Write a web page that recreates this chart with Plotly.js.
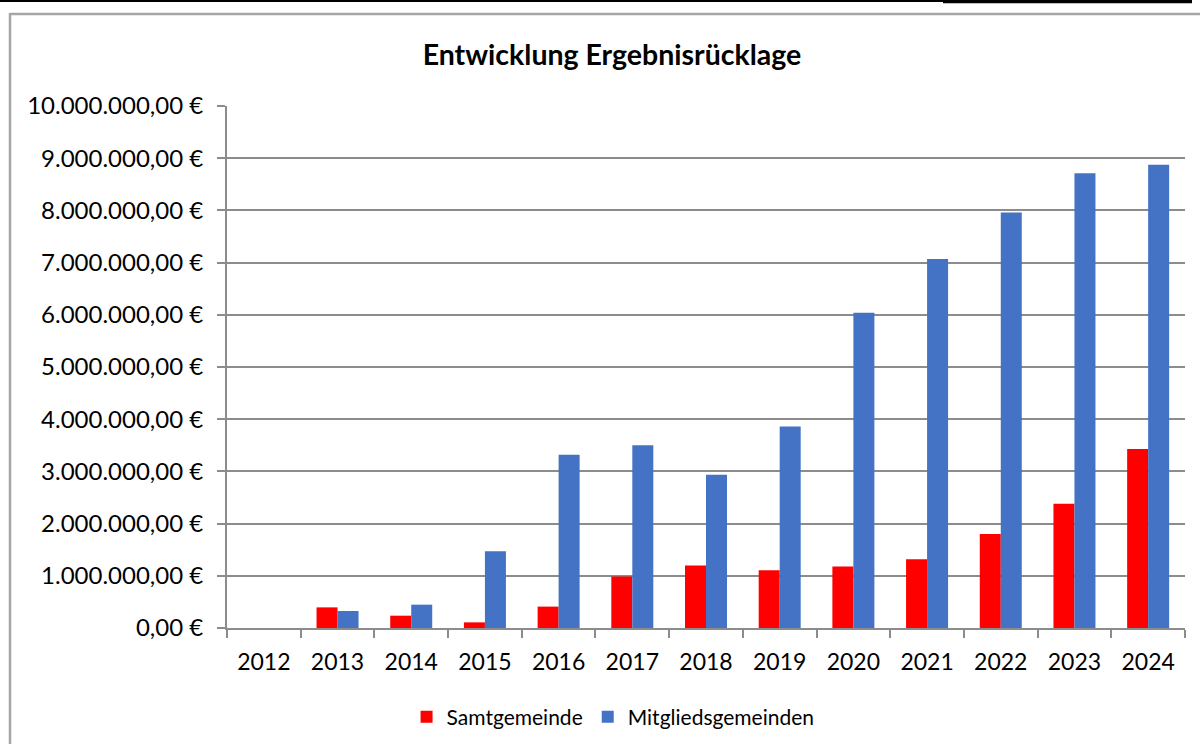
<!DOCTYPE html>
<html>
<head>
<meta charset="utf-8">
<script src="https://cdn.plot.ly/plotly-3.0.1.min.js"></script>
<style>
html,body{margin:0;padding:0;background:#fff;}
#chart{width:1200px;height:744px;}
</style>
</head>
<body>
<div id="chart"></div>
<script>
const years = ["2012","2013","2014","2015","2016","2017","2018","2019","2020","2021","2022","2023","2024"];
const samtgemeinde = [0, 395000, 236000, 108000, 410000, 985000, 1195000, 1105000, 1180000, 1315000, 1800000, 2380000, 3430000];
const mitgliedsgemeinden = [0, 326000, 447000, 1470000, 3320000, 3500000, 2935000, 3860000, 6040000, 7070000, 7960000, 8710000, 8875000];
const seriesNames = ["Samtgemeinde", "Mitgliedsgemeinden"];
const chartTitle = "Entwicklung Ergebnisrücklage";

// plot area in pixels
const L = 227, R = 1185, T = 106, B = 628, W = 1200, H = 744;
const px = x => (x - L) / (R - L);
const py = y => (B - y) / (B - T);

const FONT = "Lato, 'Liberation Sans', sans-serif";

const data = [
  {type: "bar", name: seriesNames[0], x: years, y: samtgemeinde,
   marker: {color: "#FF0000"}, hoverinfo: "skip"},
  {type: "bar", name: seriesNames[1], x: years, y: mitgliedsgemeinden,
   marker: {color: "#4472C4"}, hoverinfo: "skip"}
];

const layout = {
  width: W, height: H,
  margin: {l: L, r: W - R, t: T, b: H - B, pad: 0, autoexpand: false},
  paper_bgcolor: "#fff", plot_bgcolor: "#fff",
  separators: ",.",
  font: {family: FONT, color: "#000", size: 23},
  title: {text: "<b>" + chartTitle + "</b>", font: {family: FONT, size: 28.5, color: "#000"},
          x: 0.51, xanchor: "center", y: 1 - 55 / H, yanchor: "middle"},
  barmode: "group", bargap: 0.43, bargroupgap: 0,
  showlegend: true,
  legend: {orientation: "h", x: 0.403, xanchor: "center", y: py(717), yanchor: "middle",
           font: {family: FONT, size: 21, color: "#000"}, itemwidth: 30, traceorder: "normal"},
  xaxis: {type: "category", showgrid: false, showline: true, linecolor: "#8c8c8c", linewidth: 2,
          ticks: "outside", ticklen: 8, tickwidth: 2, tickcolor: "#8c8c8c", tickson: "boundaries",
          tickfont: {family: FONT, size: 23, color: "#000"}, ticklabelstandoff: 12,
          fixedrange: true, zeroline: false, automargin: false},
  yaxis: {range: [0, 10000000], dtick: 1000000, tick0: 0, tickformat: ",.2f", ticksuffix: " €",
          showgrid: true, gridcolor: "#8c8c8c", gridwidth: 2,
          showline: true, linecolor: "#8c8c8c", linewidth: 2,
          ticks: "outside", ticklen: 8, tickwidth: 2, tickcolor: "#8c8c8c",
          tickfont: {family: FONT, size: 24, color: "#000"}, ticklabelstandoff: 9,
          zeroline: false, fixedrange: true, automargin: false},
  shapes: [
    // black page rule at top
    {type: "rect", xref: "paper", yref: "paper", x0: px(0), x1: px(1192), y0: py(0), y1: py(2),
     fillcolor: "#000", line: {width: 0}, layer: "above"},
    {type: "rect", xref: "paper", yref: "paper", x0: px(943), x1: px(1192), y0: py(0), y1: py(3.3),
     fillcolor: "#000", line: {width: 0}, layer: "above"},
    // chart frame
    {type: "line", xref: "paper", yref: "paper", x0: px(10), x1: px(1200), y0: py(14), y1: py(14),
     line: {color: "#a6a6a6", width: 2.5}, layer: "above"},
    {type: "line", xref: "paper", yref: "paper", x0: px(10), x1: px(10), y0: py(13), y1: py(744),
     line: {color: "#a6a6a6", width: 2.5}, layer: "above"}
  ]
};

Plotly.newPlot("chart", data, layout, {displayModeBar: false, staticPlot: true});
</script>
</body>
</html>
